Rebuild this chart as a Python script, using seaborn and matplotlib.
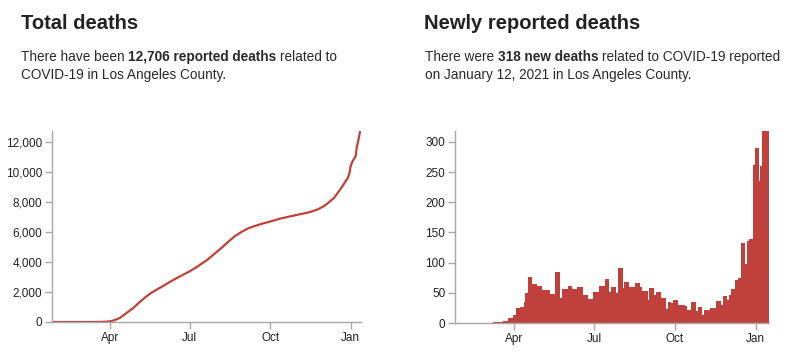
import matplotlib
matplotlib.use("Agg")
import matplotlib.pyplot as plt
import matplotlib.dates as mdates
import matplotlib.ticker as mticker
import seaborn as sns
import pandas as pd
import numpy as np

# cumulative deaths
total_dates = [
    "2020-01-25", "2020-03-12", "2020-03-20", "2020-03-27", "2020-04-01",
    "2020-04-06", "2020-04-12", "2020-04-19", "2020-04-27", "2020-05-04",
    "2020-05-12", "2020-05-18", "2020-05-24", "2020-06-01", "2020-06-09",
    "2020-06-20", "2020-07-01", "2020-07-10", "2020-07-21", "2020-07-29",
    "2020-08-06", "2020-08-14", "2020-08-21", "2020-08-29", "2020-09-06",
    "2020-09-15", "2020-09-23", "2020-10-01", "2020-10-12", "2020-10-24",
    "2020-11-05", "2020-11-16", "2020-11-24", "2020-12-01", "2020-12-07",
    "2020-12-13", "2020-12-20", "2020-12-24", "2020-12-29", "2020-12-31",
    "2021-01-01", "2021-01-03", "2021-01-05", "2021-01-07", "2021-01-08",
    "2021-01-10", "2021-01-12",
]
total_values = [
    0, 0, 5, 20, 50,
    130, 280, 580, 930, 1300,
    1700, 1950, 2150, 2420, 2700,
    3050, 3380, 3700, 4140, 4530,
    4920, 5340, 5690, 5990, 6240,
    6420, 6560, 6680, 6870, 7030,
    7180, 7320, 7480, 7690, 7950,
    8250, 8800, 9150, 9600, 9950,
    10350, 10650, 10850, 11050, 11580,
    12100, 12706,
]

# newly reported deaths: start date of each step and its value
new_starts = [
    "2020-03-08", "2020-03-20", "2020-03-25", "2020-03-31", "2020-04-03",
    "2020-04-08", "2020-04-12", "2020-04-14", "2020-04-17", "2020-04-22",
    "2020-04-27", "2020-05-03", "2020-05-10", "2020-05-12", "2020-05-18",
    "2020-05-23", "2020-05-26", "2020-06-01", "2020-06-06", "2020-06-12",
    "2020-06-18", "2020-06-19", "2020-06-24", "2020-06-30", "2020-07-07",
    "2020-07-13", "2020-07-18", "2020-07-20", "2020-07-26", "2020-07-28",
    "2020-08-03", "2020-08-04", "2020-08-10", "2020-08-17", "2020-08-22",
    "2020-08-25", "2020-08-31", "2020-09-01", "2020-09-07", "2020-09-10",
    "2020-09-15", "2020-09-21", "2020-09-23", "2020-09-27", "2020-09-29",
    "2020-10-04", "2020-10-06", "2020-10-13", "2020-10-15", "2020-10-19",
    "2020-10-25", "2020-10-27", "2020-11-01", "2020-11-03", "2020-11-10",
    "2020-11-17", "2020-11-22", "2020-11-25", "2020-11-29", "2020-12-01",
    "2020-12-04", "2020-12-08", "2020-12-12", "2020-12-15", "2020-12-20",
    "2020-12-22", "2020-12-24", "2020-12-29", "2020-12-31", "2021-01-05",
    "2021-01-06", "2021-01-08",
]
new_values = [
    1, 4, 9, 13, 25,
    27, 35, 50, 76, 65,
    61, 55, 54, 48, 84,
    42, 56, 62, 57, 60,
    35, 46, 40, 52, 61,
    73, 52, 60, 50, 91,
    58, 68, 60, 67, 60,
    53, 38, 58, 47, 52,
    42, 23, 34, 33, 38,
    30, 29, 28, 22, 35,
    20, 27, 14, 21, 25,
    37, 30, 45, 38, 46,
    56, 72, 74, 133, 97,
    135, 139, 262, 290, 236,
    260, 318,
]
new_end = "2021-01-16"

tick_dates = ["2020-04-01", "2020-07-01", "2020-10-01", "2021-01-01"]
tick_labels = ["Apr", "Jul", "Oct", "Jan"]

sns.set_theme(style="white")
plt.rcParams["font.family"] = ["Liberation Sans", "DejaVu Sans"]

RED = "#c0413b"
AXIS = "#a8a8a8"
INK = "#222222"
W, H = 792, 356
fig = plt.figure(figsize=(W / 100, H / 100), dpi=100)


def px_axes(x0, y0, x1, y1):
    return fig.add_axes([x0 / W, 1 - y1 / H, (x1 - x0) / W, (y1 - y0) / H])


ax1 = px_axes(52, 131, 361, 322)
ax2 = px_axes(455, 131, 769, 323)

# left: cumulative line
tot = pd.DataFrame({"date": mdates.date2num(pd.to_datetime(total_dates)), "deaths": total_values})
sns.lineplot(data=tot, x="date", y="deaths", ax=ax1, color=RED, linewidth=1.6)
ax1.set_ylim(0, 12706)
ax1.set_xlim(mdates.date2num(pd.Timestamp("2020-01-25")), mdates.date2num(pd.Timestamp("2021-01-13")))
ax1.set_yticks(range(0, 12001, 2000))
ax1.yaxis.set_major_formatter(mticker.StrMethodFormatter("{x:,.0f}"))

# right: step bars
new = pd.DataFrame({"start": mdates.date2num(pd.to_datetime(new_starts)), "deaths": new_values})
edges = list(new["start"]) + [mdates.date2num(pd.Timestamp(new_end))]
sns.histplot(data=new, x="start", weights="deaths", bins=edges, ax=ax2, color=RED,
             element="step", fill=True, alpha=1, linewidth=0)
ax2.set_ylim(0, 318)
ax2.set_xlim(mdates.date2num(pd.Timestamp("2020-01-25")), mdates.date2num(pd.Timestamp("2021-01-16")))
ax2.set_yticks(range(0, 301, 50))

for ax in (ax1, ax2):
    ax.set_xticks(mdates.date2num(pd.to_datetime(tick_dates)))
    ax.set_xticklabels(tick_labels)
    ax.set_xlabel("")
    ax.set_ylabel("")
    for s in ("top", "right"):
        ax.spines[s].set_visible(False)
    for s in ("left", "bottom"):
        ax.spines[s].set_color(AXIS)
        ax.spines[s].set_linewidth(1)
    ax.tick_params(axis="both", bottom=True, left=True, direction="out", length=5,
                   width=1, color=AXIS, labelsize=8.5, labelcolor=INK, pad=2)

# headings and rich subtitles
renderer = fig.canvas.get_renderer()


def text_width(s, size, weight):
    t = fig.text(0, 0, s, fontsize=size, fontweight=weight)
    w = t.get_window_extent(renderer).width
    t.remove()
    return w


def rich_line(x, y, parts, size=9.8):
    space = text_width("a a", size, "normal") - text_width("aa", size, "normal")
    for i, (s, bold) in enumerate(parts):
        if i > 0:
            x += space
        weight = "bold" if bold else "normal"
        t = fig.text(x / W, 1 - y / H, s, fontsize=size, fontweight=weight,
                     color="#2a2a2a", va="baseline", ha="left")
        x += t.get_window_extent(renderer).width


fig.text(21 / W, 1 - 29 / H, "Total deaths", fontsize=14.5, fontweight="bold",
         color=INK, va="baseline", ha="left")
fig.text(424 / W, 1 - 29 / H, "Newly reported deaths", fontsize=14.5, fontweight="bold",
         color=INK, va="baseline", ha="left")

rich_line(21, 61, [("There have been", False), ("12,706 reported deaths", True), ("related to", False)])
rich_line(21, 79, [("COVID-19 in Los Angeles County.", False)])
rich_line(425, 61, [("There were", False), ("318 new deaths", True), ("related to COVID-19 reported", False)])
rich_line(425, 79, [("on January 12, 2021 in Los Angeles County.", False)])

fig.savefig("out.png", dpi=100)
